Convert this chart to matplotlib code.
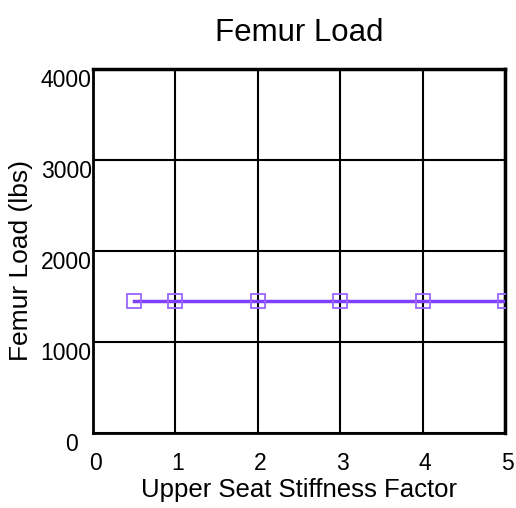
import matplotlib
matplotlib.use("Agg")
from matplotlib import pyplot as plt
from matplotlib.transforms import ScaledTranslation

stiffness = [0.5, 1, 2, 3, 4, 5]
femur_load = [1450, 1450, 1450, 1450, 1450, 1450]
x_ticks = [0, 1, 2, 3, 4, 5]
y_ticks = [0, 1000, 2000, 3000, 4000]

plt.rcParams['font.family'] = ['Liberation Sans', 'DejaVu Sans']

fig = plt.figure(figsize=[5.16, 5.08], dpi=100)
ax = fig.add_axes([93 / 516, 75 / 508, 412 / 516, 364 / 508])

ax.plot(stiffness, femur_load, color='#7f3fff', linewidth=2.5, zorder=3)
ax.plot(stiffness, femur_load, linestyle='none', marker='s', markersize=10.5,
        markerfacecolor='none', markeredgecolor='#9966ff', markeredgewidth=1.3, zorder=4)

ax.set_xlim(0, 5)
ax.set_ylim(0, 4000)
ax.set_xticks(x_ticks)
ax.set_yticks(y_ticks)
ax.grid(True, color='black', linewidth=1.5)
ax.set_axisbelow(True)
for name, s in ax.spines.items():
    s.set_linewidth(2.5 if name in ('right', 'top') else 2)
    s.set_color('black')

ax.tick_params(length=0, labelsize=16.5)
ax.tick_params(axis='x', pad=14)
ax.tick_params(axis='y', pad=1)
for lab in ax.get_yticklabels():
    lab.set_verticalalignment('top')
ylabs = ax.get_yticklabels()
ylabs[0].set_transform(ylabs[0].get_transform() + ScaledTranslation(-0.14, 0, fig.dpi_scale_trans))
for lab in ax.get_xticklabels():
    lab.set_transform(lab.get_transform() + ScaledTranslation(0.025, 0, fig.dpi_scale_trans))

ax.set_xlabel('Upper Seat Stiffness Factor', fontsize=18.5, labelpad=2)
ax.set_ylabel('Femur Load (lbs)', fontsize=19)
ax.yaxis.set_label_coords(-0.146, 0.475)
ax.set_title('Femur Load', fontsize=22.5, pad=20)

fig.savefig('out.png', dpi=100)
